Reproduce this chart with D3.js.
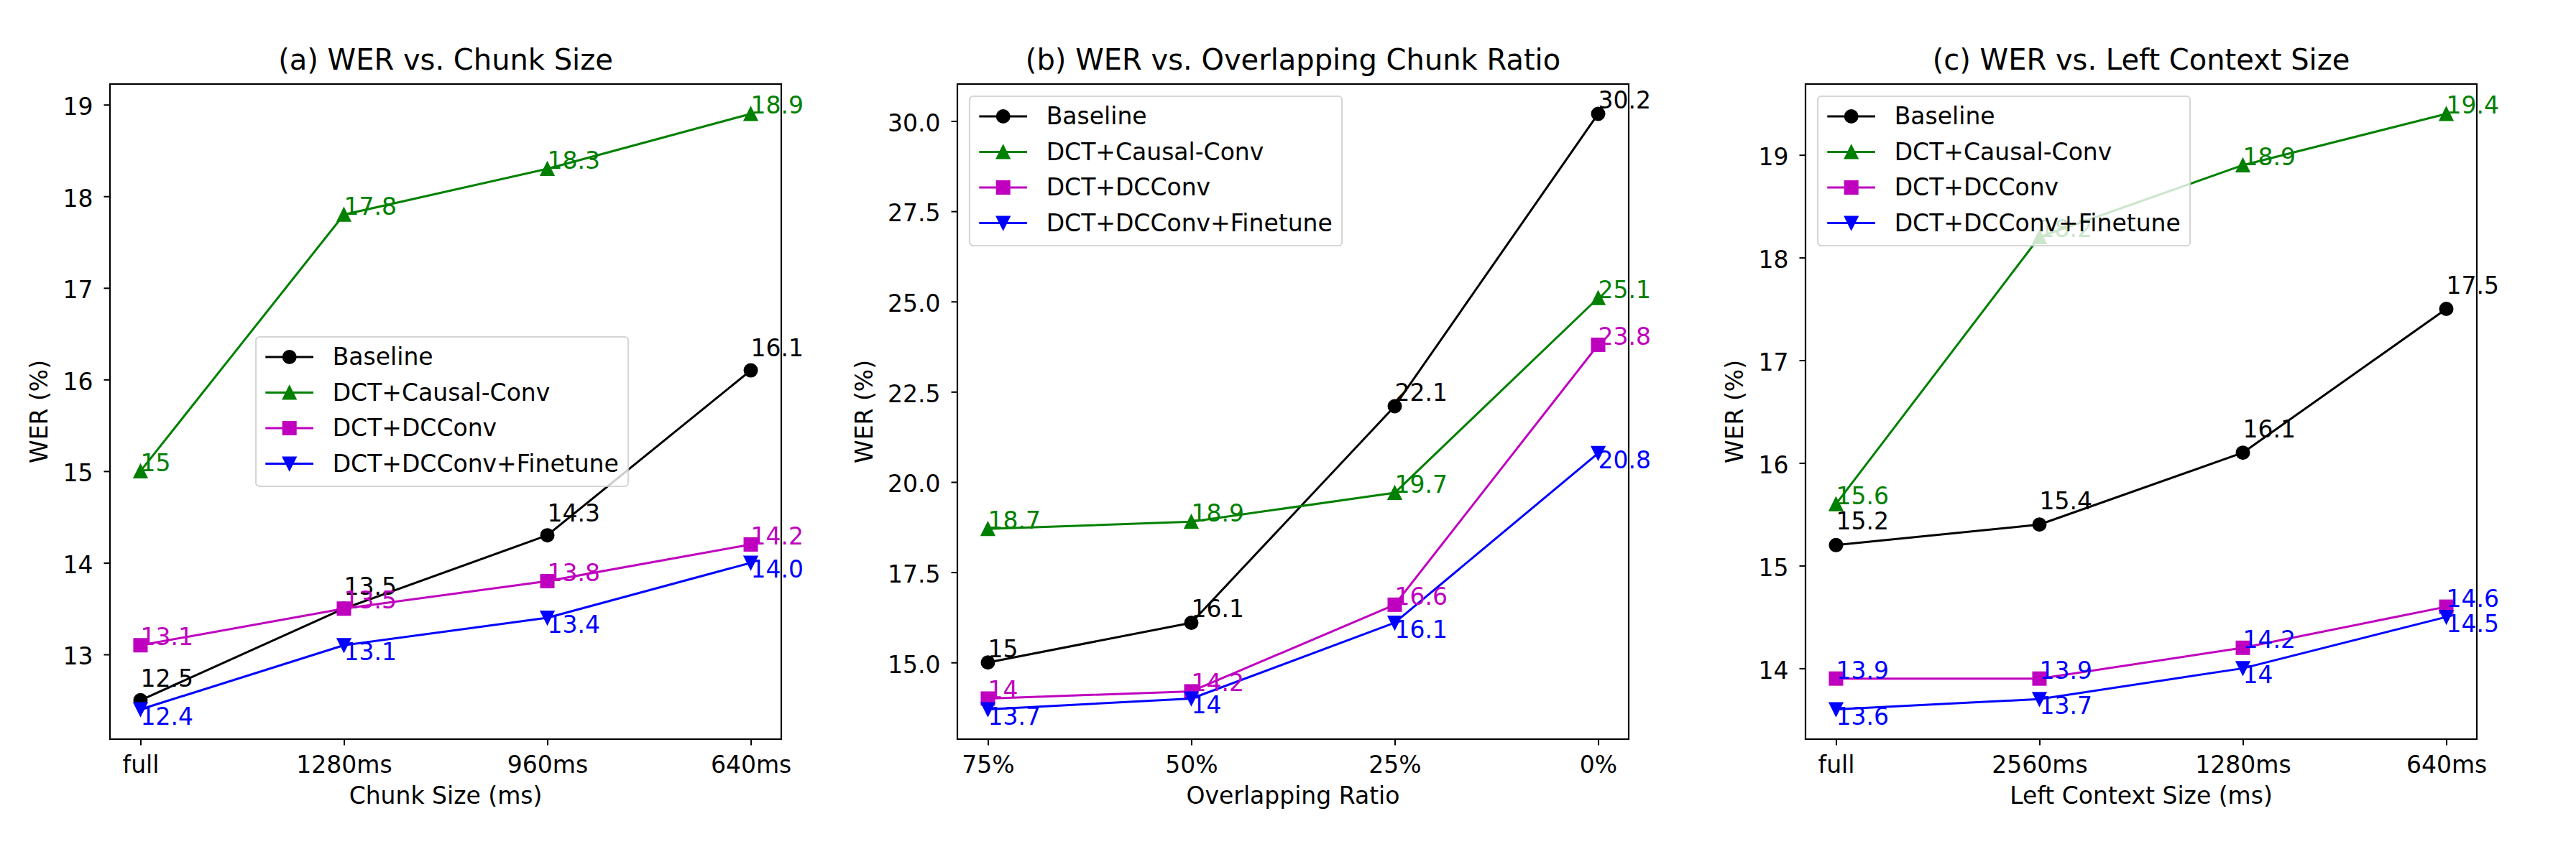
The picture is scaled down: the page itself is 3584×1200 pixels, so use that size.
<!DOCTYPE html>
<html>
<head>
<meta charset="utf-8">
<script src="https://cdn.jsdelivr.net/npm/d3@7"></script>
<style>
  body { margin: 0; background: #fff; }
  svg text { font-family: "DejaVu Sans", sans-serif; }
</style>
</head>
<body>
<script>
// x categories for each panel
var chunkCats = ["full", "1280ms", "960ms", "640ms"];
var overlapCats = ["75%", "50%", "25%", "0%"];
var leftCats = ["full", "2560ms", "1280ms", "640ms"];

var seriesNames = ["Baseline", "DCT+Causal-Conv", "DCT+DCConv", "DCT+DCConv+Finetune"];

// (a) WER vs chunk size
var chunkBaseline = [12.5, 13.5, 14.3, 16.1];
var chunkCausal = [15, 17.8, 18.3, 18.9];
var chunkDCConv = [13.1, 13.5, 13.8, 14.2];
var chunkFinetune = [12.4, 13.1, 13.4, 14.0];
var chunkFinetuneText = ["12.4", "13.1", "13.4", "14.0"];

// (b) WER vs overlapping ratio
var overlapBaseline = [15, 16.1, 22.1, 30.2];
var overlapCausal = [18.7, 18.9, 19.7, 25.1];
var overlapDCConv = [14, 14.2, 16.6, 23.8];
var overlapFinetune = [13.7, 14, 16.1, 20.8];

// (c) WER vs left context size
var leftBaseline = [15.2, 15.4, 16.1, 17.5];
var leftCausal = [15.6, 18.2, 18.9, 19.4];
var leftDCConv = [13.9, 13.9, 14.2, 14.6];
var leftFinetune = [13.6, 13.7, 14, 14.5];

// y tick labels
var chunkTicks = [13, 14, 15, 16, 17, 18, 19];
var overlapTicks = [15, 17.5, 20, 22.5, 25, 27.5, 30];
var leftTicks = [14, 15, 16, 17, 18, 19];

var W = 3584, H = 1200;
var fs = 33, titleFs = 40;
var tickLen = 8.5, tickPad = 15;
var axTop = 117, axBottom = 1029, axW = 934;
var axLefts = [153, 1332, 2512];
var lineW = 3, edgeW = 2, mr = 9;

var colors = ["#000000", "#008000", "#bf00bf", "#0000ff"];
var markers = ["circle", "up", "square", "down"];
var placement = ["above", "on", "on", "below"];

function series(values, i, textColor, texts) {
  return {
    name: seriesNames[i], values: values, color: colors[i], marker: markers[i],
    place: placement[i], textColor: textColor || colors[i],
    texts: texts || values.map(String)
  };
}

var panels = [
  { title: "(a) WER vs. Chunk Size", xlabel: "Chunk Size (ms)", cats: chunkCats,
    ticks: chunkTicks, fmt: d3.format("d"), legendAt: [203, 352],
    series: [series(chunkBaseline, 0), series(chunkCausal, 1), series(chunkDCConv, 2),
             series(chunkFinetune, 3, null, chunkFinetuneText)] },
  { title: "(b) WER vs. Overlapping Chunk Ratio", xlabel: "Overlapping Ratio", cats: overlapCats,
    ticks: overlapTicks, fmt: d3.format(".1f"), legendAt: [17, 17],
    series: [series(overlapBaseline, 0), series(overlapCausal, 1), series(overlapDCConv, 2),
             series(overlapFinetune, 3)] },
  { title: "(c) WER vs. Left Context Size", xlabel: "Left Context Size (ms)", cats: leftCats,
    ticks: leftTicks, fmt: d3.format("d"), legendAt: [17, 17],
    series: [series(leftBaseline, 0), series(leftCausal, 1), series(leftDCConv, 2, "#0000ff"),
             series(leftFinetune, 3)] }
];

var svg = d3.select("body").append("svg").attr("width", W).attr("height", H);

// draws one marker shape centred at 0,0
function drawMarker(g, kind, color) {
  var r = mr;
  if (kind === "circle") {
    g.append("circle").attr("r", r).attr("fill", color).attr("stroke", color).attr("stroke-width", edgeW);
  } else if (kind === "square") {
    g.append("rect").attr("x", -r).attr("y", -r).attr("width", 2 * r).attr("height", 2 * r)
      .attr("fill", color).attr("stroke", color).attr("stroke-width", edgeW);
  } else {
    var s = kind === "up" ? 1 : -1;
    g.append("path").attr("d", "M0," + (-s * r) + "L" + (-r) + "," + (s * r) + "L" + r + "," + (s * r) + "Z")
      .attr("fill", color).attr("stroke", color).attr("stroke-width", edgeW).attr("stroke-linejoin", "miter");
  }
}

panels.forEach(function(p, pi) {
  var left = axLefts[pi], right = left + axW;
  var x = d3.scaleLinear().domain([-0.15, 3.15]).range([left, right]);

  // matplotlib style 5% auto margins
  var all = d3.merge(p.series.map(function(s) { return s.values; }));
  var ext = d3.extent(all), pad = (ext[1] - ext[0]) * 0.05;
  var y = d3.scaleLinear().domain([ext[0] - pad, ext[1] + pad]).range([axBottom, axTop]);

  var g = svg.append("g");

  // lines + markers
  var line = d3.line().x(function(d, i) { return x(i); }).y(function(d) { return y(d); });
  p.series.forEach(function(s) {
    g.append("path").datum(s.values).attr("d", line)
      .attr("fill", "none").attr("stroke", s.color).attr("stroke-width", lineW)
      .attr("stroke-linejoin", "round").attr("stroke-linecap", "butt");
    s.values.forEach(function(v, i) {
      drawMarker(g.append("g").attr("transform", "translate(" + x(i) + "," + y(v) + ")"), s.marker, s.color);
    });
  });

  // axes box and ticks
  var xAxis = g.append("g").attr("transform", "translate(0," + axBottom + ")")
    .call(d3.axisBottom(x).tickValues([0, 1, 2, 3]).tickFormat(function(i) { return p.cats[i]; })
      .tickSize(tickLen).tickPadding(tickPad));
  var yAxis = g.append("g").attr("transform", "translate(" + left + ",0)")
    .call(d3.axisLeft(y).tickValues(p.ticks).tickFormat(p.fmt).tickSize(tickLen).tickPadding(tickPad));
  [xAxis, yAxis].forEach(function(a) {
    a.select(".domain").remove();
    a.selectAll(".tick line").attr("stroke", "#000").attr("stroke-width", 2);
    a.selectAll(".tick text").attr("font-size", fs).attr("fill", "#000")
      .style("font-family", '"DejaVu Sans", sans-serif');
  });
  yAxis.selectAll(".tick text").attr("dy", "0.42em");

  g.append("rect").attr("x", left).attr("y", axTop).attr("width", axW).attr("height", axBottom - axTop)
    .attr("fill", "none").attr("stroke", "#000").attr("stroke-width", 2.2);

  // value annotations
  p.series.forEach(function(s) {
    s.values.forEach(function(v, i) {
      var ty = y(v);
      if (s.place === "above") ty = y(v + 0.15);
      if (s.place === "below") ty = y(v) + 21;
      g.append("text").attr("x", x(i)).attr("y", ty)
        .attr("font-size", fs).attr("fill", s.textColor).text(s.texts[i]);
    });
  });

  // titles and labels
  g.append("text").attr("x", (left + right) / 2).attr("y", axTop - 20)
    .attr("text-anchor", "middle").attr("font-size", titleFs).text(p.title);
  g.append("text").attr("x", (left + right) / 2).attr("y", axBottom + 90)
    .attr("text-anchor", "middle").attr("font-size", fs).text(p.xlabel);

  var minX = d3.min(yAxis.selectAll(".tick text").nodes(), function(n) {
    var b = n.getBBox();
    return b.x;
  }) + left;
  var ly = (axTop + axBottom) / 2, lx = minX - 13.3 - 8;
  g.append("text").attr("transform", "translate(" + lx + "," + ly + ") rotate(-90)")
    .attr("text-anchor", "middle").attr("font-size", fs).text("WER (%)");

  // legend
  var leg = g.append("g").attr("transform", "translate(" + (left + p.legendAt[0]) + "," + (axTop + p.legendAt[1]) + ")");
  var frame = leg.append("rect").attr("rx", 5).attr("ry", 5).attr("height", 208)
    .attr("fill", "#fff").attr("fill-opacity", 0.8)
    .attr("stroke", "#cccccc").attr("stroke-opacity", 0.8).attr("stroke-width", 2.2);
  var maxW = 0;
  p.series.forEach(function(s, i) {
    var cy = 28 + i * 49.5;
    leg.append("line").attr("x1", 13.3).attr("x2", 80).attr("y1", cy).attr("y2", cy)
      .attr("stroke", s.color).attr("stroke-width", lineW);
    drawMarker(leg.append("g").attr("transform", "translate(46.7," + cy + ")"), s.marker, s.color);
    var t = leg.append("text").attr("x", 106.7).attr("y", cy + 11).attr("font-size", fs).text(s.name);
    maxW = Math.max(maxW, t.node().getComputedTextLength());
  });
  frame.attr("width", 106.7 + maxW + 13.3);
});
</script>
</body>
</html>
